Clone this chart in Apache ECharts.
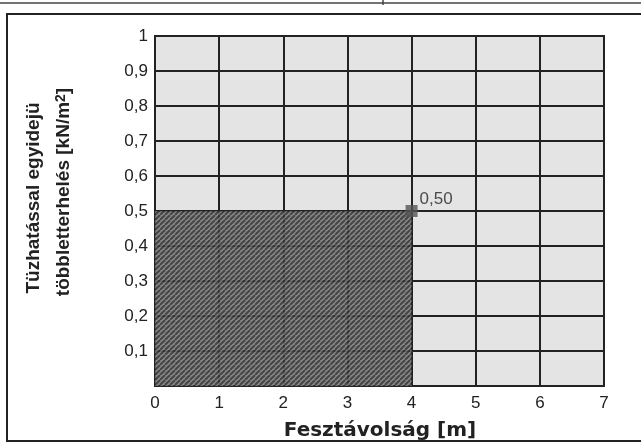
<!DOCTYPE html>
<html><head><meta charset="utf-8">
<script src="https://cdn.jsdelivr.net/npm/echarts@6/dist/echarts.min.js"></script>
<style>html,body{margin:0;padding:0;background:#fff}#c{width:641px;height:443px}</style>
</head><body><div id="c"></div>
<script>
// Data
const xTicks = [0, 1, 2, 3, 4, 5, 6, 7];
const yTicks = [0, 0.1, 0.2, 0.3, 0.4, 0.5, 0.6, 0.7, 0.8, 0.9, 1];
const spanM = [4];
const loadKN = [0.50];
const zoneX = [0, 4];
const zoneY = [0, 0.5];
const xTitle = 'Fesztávolság [m]';
const yTitle1 = 'Tüzhatással egyidejü';
const yTitle2 = 'többletterhelés [kN/m';

// hatch pattern
const pc = document.createElement('canvas');
pc.width = 5; pc.height = 5;
const g = pc.getContext('2d');
g.fillStyle = '#7e7e7e'; g.fillRect(0, 0, 5, 5);
g.strokeStyle = '#333'; g.lineWidth = 2;
for (let k = -5; k <= 10; k += 5) {
  g.beginPath(); g.moveTo(k, 5); g.lineTo(k + 5, 0); g.stroke();
}

const fmt = v => v.toFixed(1).replace('.', ',');
const chart = echarts.init(document.getElementById('c'));
chart.setOption({
  animation: false,
  backgroundColor: '#fff',
  textStyle: { fontFamily: 'Liberation Sans, Arial, sans-serif' },
  grid: { left: 155, right: 37, top: 36, bottom: 57, show: true, backgroundColor: '#e4e4e4', borderColor: '#222', borderWidth: 2 },
  xAxis: {
    type: 'value', min: xTicks[0], max: xTicks[xTicks.length - 1], interval: 1,
    axisLine: { show: false }, axisTick: { show: false },
    splitLine: { show: true, lineStyle: { color: '#222', width: 2 } },
    axisLabel: { fontSize: 17, color: '#222', margin: 9 }
  },
  yAxis: {
    type: 'value', min: yTicks[0], max: yTicks[yTicks.length - 1], interval: 0.1,
    axisLine: { show: false }, axisTick: { show: false },
    splitLine: { show: true, lineStyle: { color: '#222', width: 2 } },
    axisLabel: { fontSize: 17, color: '#222', margin: 7,
      formatter: v => v === 0 ? '' : (v === 1 ? '1' : fmt(v)) }
  },
  series: [
    {
      type: 'scatter', data: [], z: 3,
      markArea: {
        silent: true,
        itemStyle: { color: { image: pc, repeat: 'repeat' }, opacity: 0.9 },
        data: [[{ coord: [zoneX[0], zoneY[0]] }, { coord: [zoneX[1], zoneY[1]] }]]
      }
    },
    {
      type: 'scatter', z: 5,
      data: spanM.map((x, i) => [x, loadKN[i]]),
      symbol: 'rect', symbolSize: 12,
      itemStyle: { color: '#555' },
      label: { show: true, position: 'right', distance: 2, offset: [0, -12], fontSize: 17, color: '#222',
        formatter: p => p.value[1].toFixed(2).replace('.', ',') }
    }
  ],
  graphic: [
    { type: 'rect', shape: { x: 7, y: 14, width: 650, height: 427 }, style: { fill: 'none', stroke: '#222', lineWidth: 2 } },
    { type: 'line', shape: { x1: 0, y1: 3, x2: 641, y2: 3 }, style: { stroke: '#444', lineWidth: 1.5 } },
    { type: 'line', shape: { x1: 383, y1: 0, x2: 383, y2: 5 }, style: { stroke: '#444', lineWidth: 1.5 } },
    { type: 'text', x: 380, y: 431, style: { text: xTitle, font: 'bold 20px "DejaVu Sans", Arial', fill: '#222', align: 'center', verticalAlign: 'middle' } },
    { type: 'text', x: 34, y: 198, rotation: Math.PI / 2, style: { text: yTitle1, font: 'bold 19px "Liberation Sans", Arial', fill: '#222', align: 'center', verticalAlign: 'middle' } },
    { type: 'text', x: 64, y: 192, rotation: Math.PI / 2, style: {
      text: '{a|' + yTitle2 + '}{s|2}{a|]}',
      rich: { a: { font: 'bold 19px "Liberation Sans", Arial', fill: '#222', verticalAlign: 'bottom' },
              s: { font: 'bold 14px "Liberation Sans", Arial', fill: '#222', verticalAlign: 'top' } },
      align: 'center', verticalAlign: 'middle' } }
  ]
});
</script></body></html>
